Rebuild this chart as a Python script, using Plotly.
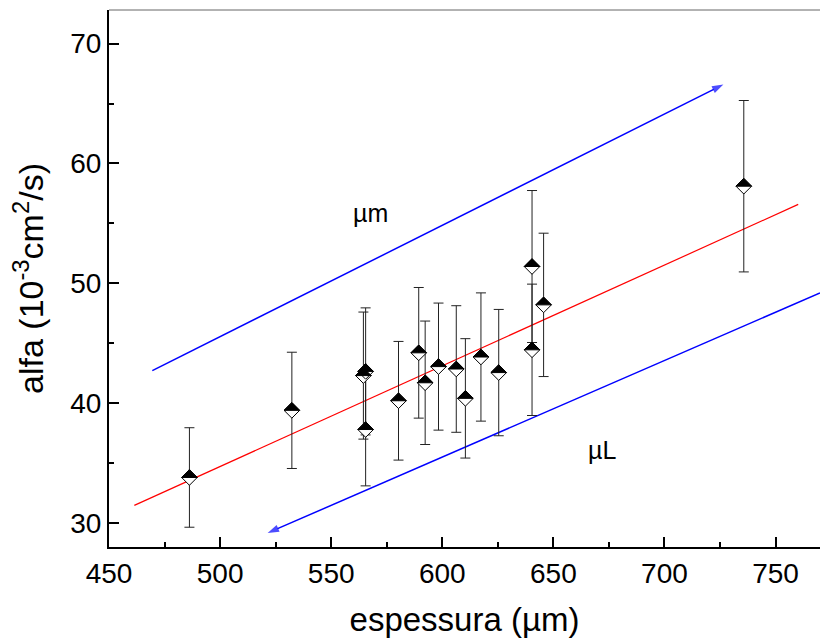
import plotly.graph_objects as go

# ---- data ----
espessura = [486.2, 532.3, 564.5, 565.5, 565.5, 580.3, 589.4, 592.3, 598.3, 606.3,
             610.4, 617.4, 625.4, 640.4, 640.4, 645.6, 735.7]
alfa = [33.8, 39.4, 42.3, 42.65, 37.8, 40.2, 44.2, 41.7, 43.05, 42.85,
        40.4, 43.85, 42.55, 51.4, 44.45, 48.2, 58.1]
alfa_err = [4.15, 4.85, 5.3, 5.3, 4.7, 4.95, 5.45, 5.15, 5.3, 5.28,
            4.98, 5.35, 5.27, 6.34, 5.48, 5.98, 7.15]

fit_x = [461.4, 760.2]
fit_y = [31.47, 56.58]

arrow_up_x = [469.5, 726.5]
arrow_up_y = [42.72, 66.58]
arrow_down_x = [770.0, 521.4]
arrow_down_y = [49.2, 29.17]

label_um = (567.5, 55.86, "µm")
label_uL = (671.9, 36.1, "µL")

x_ticks = [450, 500, 550, 600, 650, 700, 750]
y_ticks = [30, 40, 50, 60, 70]

FONT = "Liberation Sans, Arial, sans-serif"

fig = go.Figure()

# blue arrows (line + arrowhead marker oriented along the line)
for ax_, ay_ in [(arrow_up_x, arrow_up_y), (arrow_down_x, arrow_down_y)]:
    fig.add_trace(go.Scatter(
        x=ax_, y=ay_, mode="lines+markers",
        line=dict(color="#0000ff", width=1.5),
        marker=dict(symbol="arrow", size=[0, 12], angleref="previous",
                    color="#0000ff", line=dict(width=0)),
        hoverinfo="skip", showlegend=False))

# fit line
fig.add_trace(go.Scatter(x=fit_x, y=fit_y, mode="lines",
                         line=dict(color="#ff0000", width=1.2),
                         hoverinfo="skip", showlegend=False))

# data with error bars (white diamonds; top halves filled via shapes below)
fig.add_trace(go.Scatter(
    x=espessura, y=alfa, mode="markers",
    marker=dict(symbol="diamond", size=12, color="white",
                line=dict(color="black", width=1)),
    error_y=dict(type="data", array=alfa_err, visible=True,
                 color="#222222", thickness=1, width=5),
    showlegend=False))

shapes = []
for xv, yv in zip(espessura, alfa):
    shapes.append(dict(type="path", xref="x", yref="y",
                       xsizemode="pixel", ysizemode="pixel",
                       xanchor=xv, yanchor=yv,
                       path="M-7.8,0 L0,7.8 L7.8,0 Z",
                       fillcolor="black", line=dict(color="black", width=1),
                       layer="above"))
# thin top frame line
shapes.append(dict(type="line", xref="paper", yref="paper", x0=0, x1=1, y0=1, y1=1,
                   line=dict(color="#666666", width=1)))

annotations = []
for xv, yv, t in [label_um, label_uL]:
    annotations.append(dict(x=xv, y=yv, xref="x", yref="y", text=t, showarrow=False,
                            font=dict(family=FONT, size=25, color="black")))

fig.update_layout(
    width=820, height=641,
    margin=dict(l=109, r=0, t=10, b=94, autoexpand=False),
    paper_bgcolor="white", plot_bgcolor="white",
    font=dict(family=FONT, color="black"),
    shapes=shapes, annotations=annotations,
)

fig.update_xaxes(
    automargin=False,
    range=[450, 770], tickvals=x_ticks, ticks="inside", ticklen=10, tickwidth=2,
    tickcolor="black", showline=True, linewidth=2, linecolor="black",
    showgrid=False, zeroline=False, tickfont=dict(size=28),
    minor=dict(dtick=25, tick0=450, ticks="inside", ticklen=5, tickwidth=2,
               tickcolor="black", showgrid=False),
    title=dict(text="espessura (µm)", font=dict(size=33), standoff=20),
)
fig.update_yaxes(
    automargin=False,
    range=[28.0, 72.8], tickvals=y_ticks, ticks="inside", ticklen=10, tickwidth=2,
    tickcolor="black", showline=True, linewidth=2, linecolor="black",
    showgrid=False, zeroline=False, tickfont=dict(size=28),
    minor=dict(dtick=5, tick0=30, ticks="inside", ticklen=5, tickwidth=2,
               tickcolor="black", showgrid=False),
    title=dict(text="alfa (10<sup>-3</sup>cm<sup>2</sup>/s)", font=dict(size=34), standoff=16),
)

fig.write_html("out.html", config={"displayModeBar": False},
               post_script="document.body.style.margin='0';document.body.style.overflow='hidden';")
